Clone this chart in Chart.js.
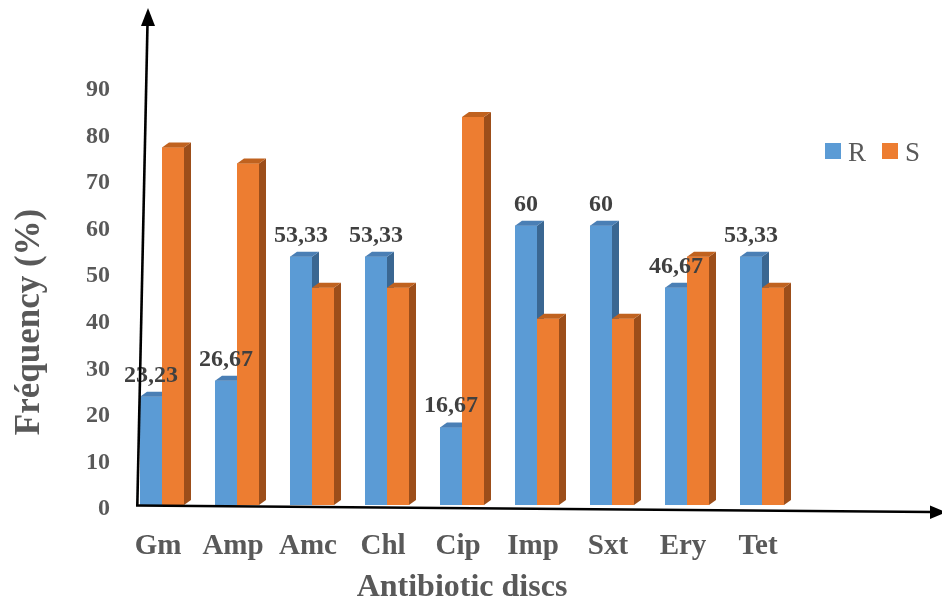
<!DOCTYPE html>
<html>
<head>
<meta charset="utf-8">
<script src="https://cdn.jsdelivr.net/npm/chart.js@4/dist/chart.umd.min.js"></script>
<style>
  html, body { margin: 0; padding: 0; background: #ffffff; }
  #wrap { width: 942px; height: 600px; }
</style>
</head>
<body>
<div id="wrap"><canvas id="chart" width="942" height="600"></canvas></div>
<script>
// Antibiotic discs and resistance / susceptibility frequencies (%)
const discs = ['Gm', 'Amp', 'Amc', 'Chl', 'Cip', 'Imp', 'Sxt', 'Ery', 'Tet'];
const resistant = [23.23, 26.67, 53.33, 53.33, 16.67, 60, 60, 46.67, 53.33];
const susceptible = [76.77, 73.33, 46.67, 46.67, 83.33, 40, 40, 53.33, 46.67];
const seriesNames = ['R', 'S'];
const yTicks = [0, 10, 20, 30, 40, 50, 60, 70, 80, 90];

const SERIF = '"Liberation Serif", "Times New Roman", serif';
const TEXT_GREY = '#595959';
const LABEL_GREY = '#404040';

// front / top / side shades of each series
const shades = [
  { front: '#5B9BD5', top: '#4A7FB5', side: '#3A6792' },
  { front: '#ED7D31', top: '#C0621F', side: '#9C4E1A' }
];
const DEPTH_X = 7, DEPTH_Y = -5;

// extruded bars: front, right side and top face, drawn category by category
const bars3d = {
  id: 'bars3d',
  afterDatasetsDraw(chart) {
    const ctx = chart.ctx;
    const n = chart.data.labels.length;
    ctx.save();
    for (let i = 0; i < n; i++) {
      for (let d = 0; d < chart.data.datasets.length; d++) {
        const el = chart.getDatasetMeta(d).data[i];
        const c = shades[d];
        const l = el.x - el.width / 2, r = el.x + el.width / 2;
        const t = el.y, b = el.base;
        ctx.fillStyle = c.front;
        ctx.fillRect(l, t, r - l, b - t);
        ctx.fillStyle = c.side;
        ctx.beginPath();
        ctx.moveTo(r, t);
        ctx.lineTo(r + DEPTH_X, t + DEPTH_Y);
        ctx.lineTo(r + DEPTH_X, b + DEPTH_Y);
        ctx.lineTo(r, b);
        ctx.closePath();
        ctx.fill();
        ctx.fillStyle = c.top;
        ctx.beginPath();
        ctx.moveTo(l, t);
        ctx.lineTo(l + DEPTH_X, t + DEPTH_Y);
        ctx.lineTo(r + DEPTH_X, t + DEPTH_Y);
        ctx.lineTo(r, t);
        ctx.closePath();
        ctx.fill();
      }
    }
    // value labels above the R bars
    ctx.fillStyle = LABEL_GREY;
    ctx.font = 'bold 24px ' + SERIF;
    ctx.textAlign = 'center';
    ctx.textBaseline = 'alphabetic';
    const meta = chart.getDatasetMeta(0);
    chart.data.datasets[0].data.forEach((v, i) => {
      const el = meta.data[i];
      ctx.fillText(String(v).replace('.', ','), el.x, el.y - 15);
    });
    ctx.restore();
  }
};

// legend, y-axis title and the two arrowed axes
const decorations = {
  id: 'decorations',
  afterDraw(chart) {
    const ctx = chart.ctx;
    ctx.save();

    // legend
    ctx.font = '27px ' + SERIF;
    ctx.textBaseline = 'alphabetic';
    ctx.textAlign = 'left';
    const legendX = [825, 882];
    seriesNames.forEach((name, k) => {
      ctx.fillStyle = shades[k].front;
      ctx.fillRect(legendX[k], 143, 16, 16);
      ctx.fillStyle = TEXT_GREY;
      ctx.fillText(name, legendX[k] + 23, 161);
    });

    // y-axis title
    ctx.save();
    ctx.translate(30, 322);
    ctx.rotate(-Math.PI / 2);
    ctx.font = 'bold 35px ' + SERIF;
    ctx.fillStyle = TEXT_GREY;
    ctx.textAlign = 'center';
    ctx.textBaseline = 'middle';
    ctx.fillText('Fréquency (%)', 0, 0);
    ctx.restore();

    // arrowed axes
    ctx.strokeStyle = '#000000';
    ctx.fillStyle = '#000000';
    ctx.lineWidth = 2.6;
    ctx.lineCap = 'butt';
    ctx.beginPath();
    ctx.moveTo(137.3, 506);
    ctx.lineTo(147.5, 24);
    ctx.stroke();
    ctx.beginPath();
    ctx.moveTo(148, 8);
    ctx.lineTo(155, 26);
    ctx.lineTo(141, 26);
    ctx.closePath();
    ctx.fill();

    ctx.beginPath();
    ctx.moveTo(136, 505.5);
    ctx.lineTo(932, 512);
    ctx.stroke();
    ctx.beginPath();
    ctx.moveTo(946, 512.3);
    ctx.lineTo(930, 505.5);
    ctx.lineTo(930, 519);
    ctx.closePath();
    ctx.fill();

    ctx.restore();
  }
};

new Chart(document.getElementById('chart'), {
  type: 'bar',
  data: {
    labels: discs,
    datasets: [
      { label: seriesNames[0], data: resistant, backgroundColor: shades[0].front, borderWidth: 0 },
      { label: seriesNames[1], data: susceptible, backgroundColor: shades[1].front, borderWidth: 0 }
    ]
  },
  options: {
    responsive: false,
    animation: false,
    events: [],
    layout: { padding: { left: 0, right: 142.5, top: 86, bottom: 0 } },
    datasets: {
      bar: { categoryPercentage: 0.5867, barPercentage: 1 }
    },
    plugins: {
      legend: { display: false },
      tooltip: { enabled: false },
      title: { display: false }
    },
    scales: {
      x: {
        grid: { display: false, drawTicks: false },
        border: { display: false },
        ticks: {
          color: TEXT_GREY,
          font: { family: SERIF, size: 29, weight: 'bold' },
          padding: 24,
          labelOffset: -4,
          maxRotation: 0,
          autoSkip: false
        },
        title: {
          display: true,
          text: 'Antibiotic discs',
          color: TEXT_GREY,
          font: { family: SERIF, size: 32, weight: 'bold', lineHeight: 0.75 },
          padding: 0
        },
        afterFit(scale) { scale.height = 95; }
      },
      y: {
        min: 0,
        max: 90,
        grid: { display: false, drawTicks: false },
        border: { display: false },
        afterBuildTicks(scale) { scale.ticks = yTicks.map(v => ({ value: v })); },
        ticks: {
          color: TEXT_GREY,
          font: { family: SERIF, size: 24, weight: 'bold' },
          padding: 14.5,
          labelOffset: 4
        },
        afterFit(scale) { scale.width = 124.5; }
      }
    }
  },
  plugins: [bars3d, decorations]
});
</script>
</body>
</html>
